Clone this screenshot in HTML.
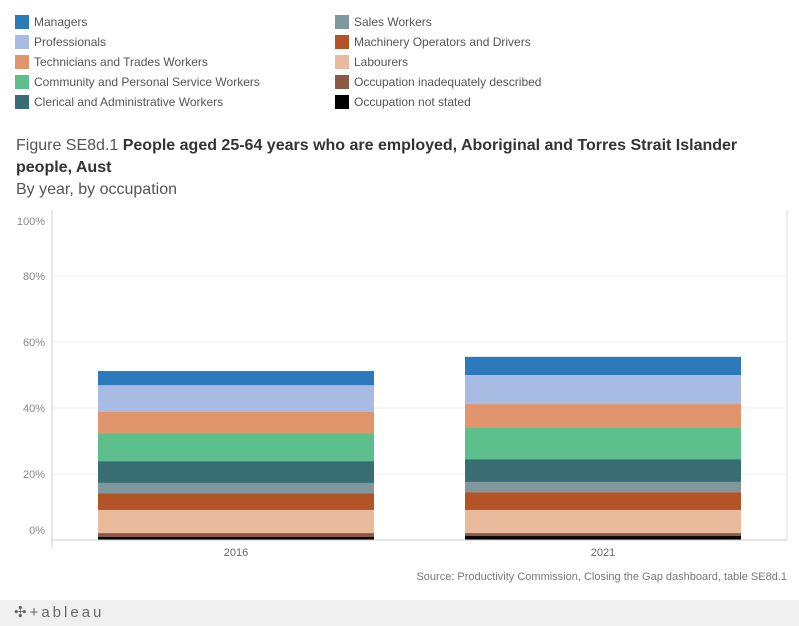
<!DOCTYPE html>
<html><head><meta charset="utf-8">
<style>
body{margin:0;background:#fff;font-family:"Liberation Sans","DejaVu Sans",sans-serif;}
#wrap{position:relative;width:799px;height:626px;overflow:hidden;}
.leg{position:absolute;font-size:12px;color:#555;}
.sw{position:absolute;width:14px;height:14px;}
</style></head>
<body>
<div id="wrap">
<div id="legend"></div>
<div style="position:absolute;left:16px;top:135px;font-size:16px;color:#333;line-height:22px;width:760px;"><span style="color:#555">Figure SE8d.1 </span><b style="font-weight:600">People aged 25-64 years who are employed, Aboriginal and Torres Strait Islander people, Aust</b></div>
<div style="position:absolute;left:16px;top:181px;font-size:16px;color:#555;">By year, by occupation</div>
<svg id="chart" width="799" height="626" style="position:absolute;left:0;top:0"></svg>
<div style="position:absolute;right:12px;top:571px;font-size:11px;color:#777;">Source: Productivity Commission, Closing the Gap dashboard, table SE8d.1</div>
<div style="position:absolute;left:0;top:600px;width:799px;height:26px;background:#f0f0f0;"></div>
<div style="position:absolute;left:14px;top:603px;font-size:15px;color:#666;letter-spacing:3px;">✣+ableau</div>
</div>
<script>
const categories=["2016","2021"];
const seriesNames=["Occupation not stated","Occupation inadequately described","Labourers","Machinery Operators and Drivers","Sales Workers","Clerical and Administrative Workers","Community and Personal Service Workers","Technicians and Trades Workers","Professionals","Managers"];
const seriesColors=["#000000","#8a5a44","#e9bb9c","#b35426","#7f979d","#386d74","#5cbf8c","#e0956c","#a8bbe2","#2c79bc"];
const values2016=[0.9,1.2,7.0,5.1,3.1,6.6,8.5,6.4,8.1,4.3];
const values2021=[1.2,0.9,7.0,5.4,3.1,6.9,9.7,7.0,8.8,5.5];
const seriesValues=[values2016,values2021];
const yTicks=[0,20,40,60,80,100];
const yTickLabels=["0%","20%","40%","60%","80%","100%"];
const legendOrder=["Managers","Professionals","Technicians and Trades Workers","Community and Personal Service Workers","Clerical and Administrative Workers","Sales Workers","Machinery Operators and Drivers","Labourers","Occupation inadequately described","Occupation not stated"];

const NS="http://www.w3.org/2000/svg";
const svg=document.getElementById('chart');
const y0=540, pxPer=3.3;
function yScale(v){return y0-v*pxPer;}
const barX=[98,465], barW=276;
function xScale(i){return barX[i];}
function mk(t,a){const e=document.createElementNS(NS,t);for(const k in a)e.setAttribute(k,a[k]);svg.appendChild(e);return e;}
let f=mk('line',{x1:52,y1:210,x2:52,y2:548,stroke:'#ccc'});


f=mk('line',{x1:787,y1:210,x2:787,y2:540,stroke:'#ddd'});


yTicks.forEach((t,i)=>{
  const y=yScale(t);
  if(t>0&&t<100){const g=mk('line',{x1:52,y1:y,x2:787,y2:y,stroke:'#eee'});
  
  }
  let ly=y+4;
  if(t===0) ly=y-6;
  if(t===100) ly=y+15;
  const tx=mk('text',{x:45,y:ly,'text-anchor':'end','font-size':11,fill:'#888','font-family':'Liberation Sans, sans-serif'});
  tx.textContent=yTickLabels[i];
  
  
});
categories.forEach((c,ci)=>{
  let acc=0;
  seriesValues[ci].forEach((v,si)=>{
    const r=mk('rect',{x:xScale(ci),y:yScale(acc+v),width:barW,height:v*pxPer,fill:seriesColors[si]});
    
    
    acc+=v;
  });
  const tx=mk('text',{x:xScale(ci)+barW/2,y:556,'text-anchor':'middle','font-size':11,fill:'#666','font-family':'Liberation Sans, sans-serif'});
  tx.textContent=c;
  
  
});
f=mk('line',{x1:52,y1:540,x2:787,y2:540,stroke:'#ccc'});


const leg=document.getElementById('legend');
legendOrder.forEach((n,i)=>{
  const col=i<5?0:1, row=i%5;
  const x=col?335:15, y=15+row*20;
  const e=document.createElement('div');
  
  
  const sw=document.createElement('div');sw.className='sw';
  sw.style.left=x+'px';sw.style.top=y+'px';
  sw.style.background=seriesColors[seriesNames.indexOf(n)];
  const t=document.createElement('div');t.className='leg';
  t.style.left=(x+19)+'px';t.style.top=(y)+'px';t.textContent=n;
  e.appendChild(sw);e.appendChild(t);leg.appendChild(e);
});
</script>
</body></html>
